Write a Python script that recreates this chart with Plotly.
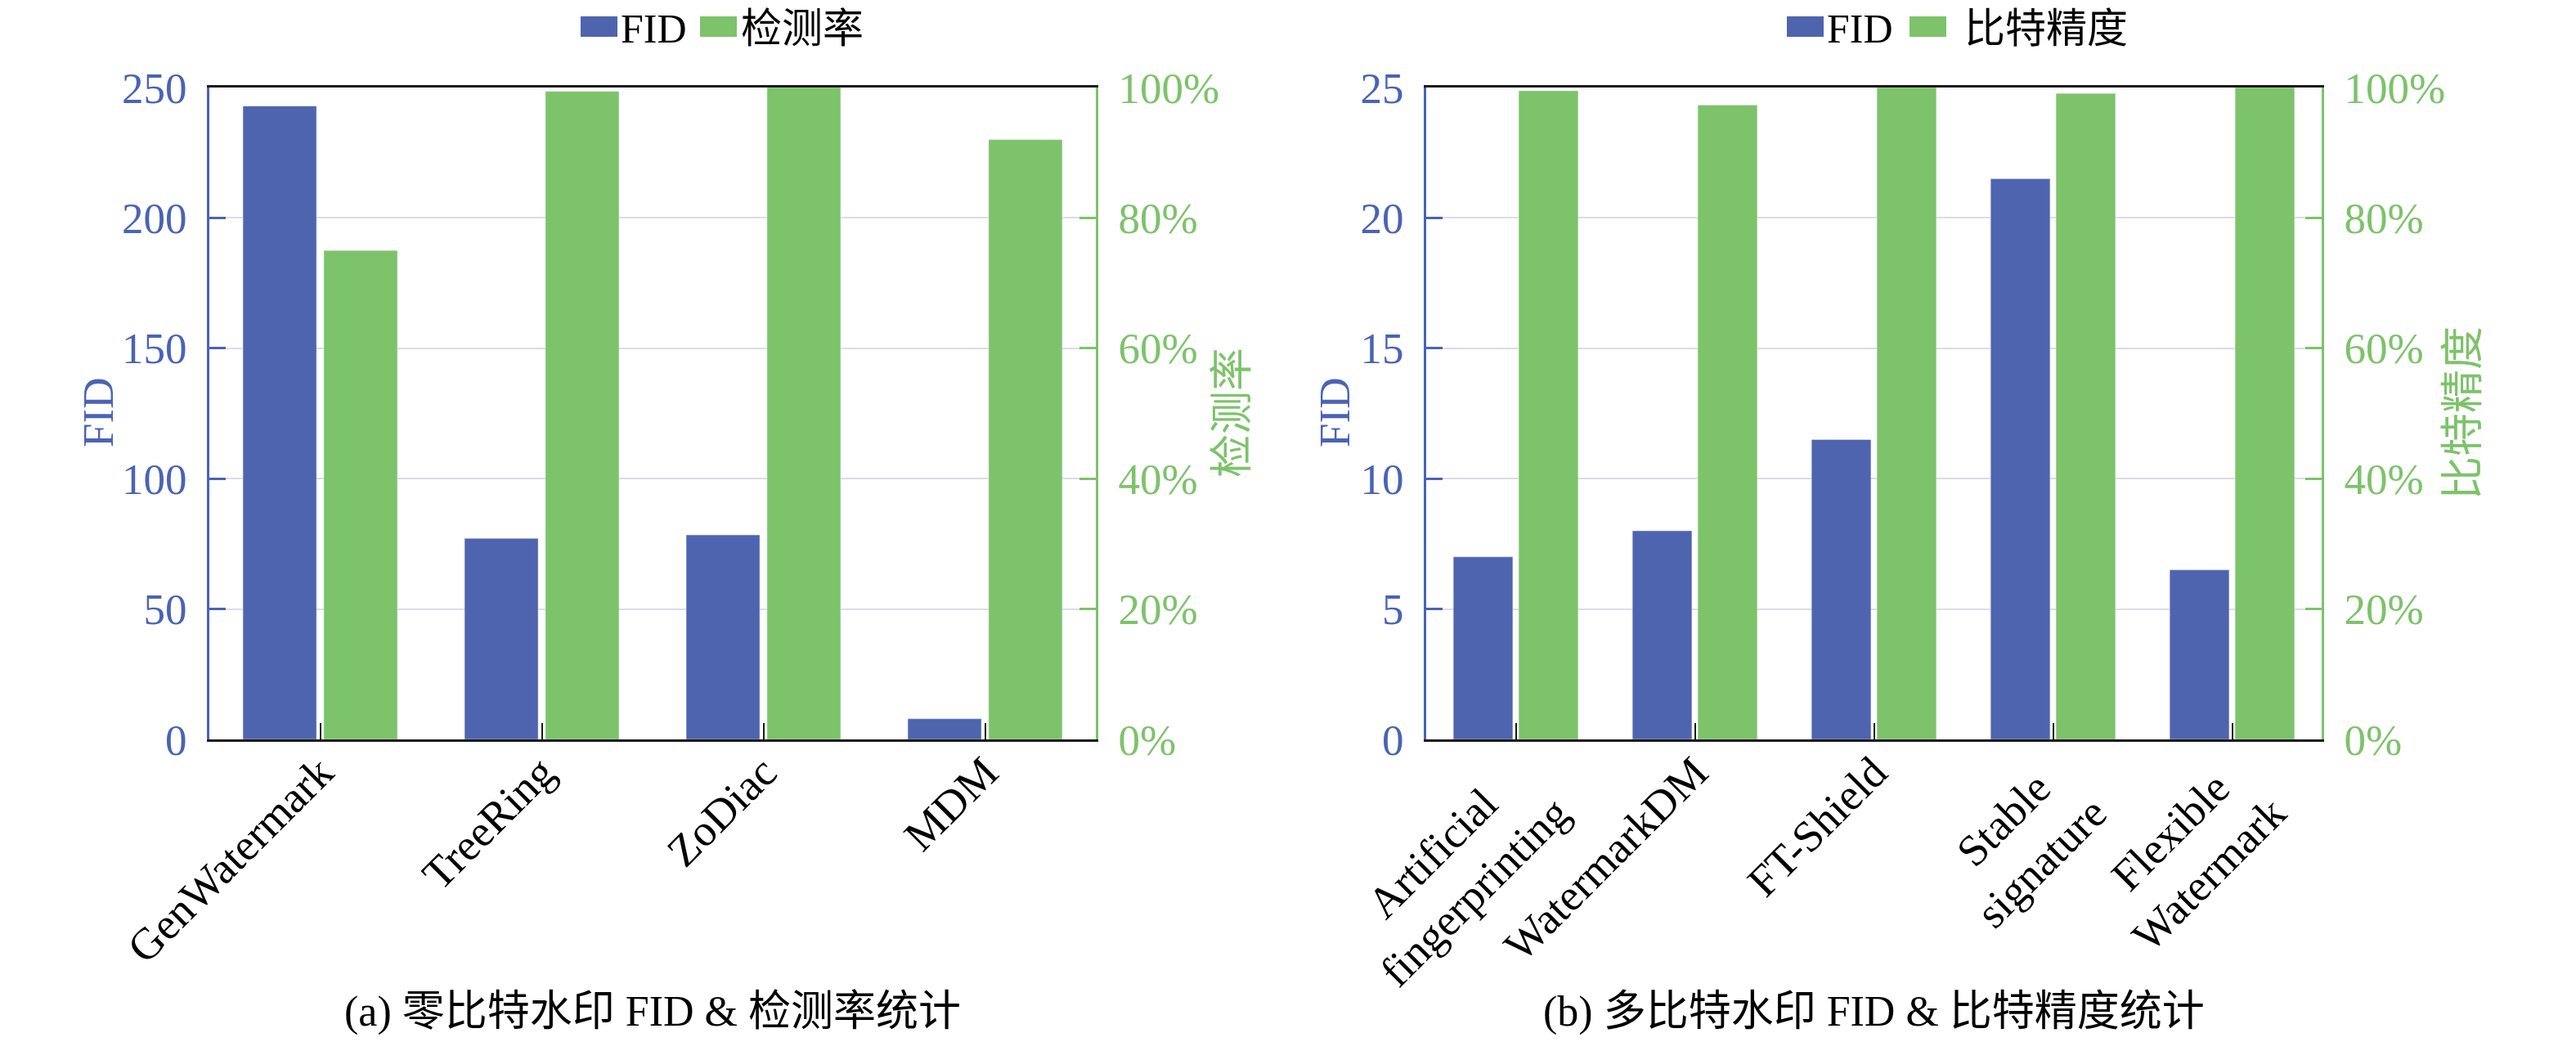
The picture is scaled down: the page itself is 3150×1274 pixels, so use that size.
import plotly.graph_objects as go
from plotly.subplots import make_subplots

# (a) zero-bit watermarking
cats_a = ["GenWatermark", "TreeRing", "ZoDiac", "MDM"]
fid_a = [242.9, 77.1, 78.4, 7.9]
det_a = [75.0, 99.4, 100.0, 92.0]

# (b) multi-bit watermarking
cats_b = ["Artificial fingerprinting", "WatermarkDM", "FT-Shield",
          "Stable signature", "Flexible Watermark"]
fid_b = [7.0, 8.0, 11.5, 21.5, 6.5]
acc_b = [99.5, 97.3, 100.0, 99.1, 100.0]
# two-line tick labels, short line padded with nbsp so lines look centred
NB = "\u00a0"
ticks_b = ["Artificial" + NB * 4 + "<br>fingerprinting", "WatermarkDM",
           "FT-Shield", "Stable" + NB * 2 + "<br>signature",
           "Flexible" + NB * 2 + "<br>Watermark"]

W, H = 3150, 1274
PAD = 8  # browser body margin
BLUE = "#4f64ae"
GREEN = "#7dc36a"
AXBLUE = "#4a63b5"
BLACK = "#1a1a1a"
FONT = "Liberation Serif, Noto Sans CJK SC, serif"


# page pixel -> paper fraction
def px(x):
    return (x - PAD) / (W - PAD)


def py(y):
    return 1 - (y - PAD) / (H - PAD)


fig = make_subplots(rows=1, cols=2,
                    specs=[[{"secondary_y": True}, {"secondary_y": True}]])

fig.add_trace(go.Bar(x=cats_a, y=fid_a, name="FID", marker_color=BLUE,
                     offsetgroup=1, showlegend=False),
              row=1, col=1, secondary_y=False)
fig.add_trace(go.Bar(x=cats_a, y=det_a, name="检测率", marker_color=GREEN,
                     offsetgroup=2, showlegend=False),
              row=1, col=1, secondary_y=True)
fig.add_trace(go.Bar(x=cats_b, y=fid_b, name="FID", marker_color=BLUE,
                     offsetgroup=1, showlegend=False),
              row=1, col=2, secondary_y=False)
fig.add_trace(go.Bar(x=cats_b, y=acc_b, name="比特精度", marker_color=GREEN,
                     offsetgroup=2, showlegend=False),
              row=1, col=2, secondary_y=True)

ydom = [py(904), py(107)]

xcommon = dict(showline=True, linecolor=BLACK, linewidth=3, mirror=True,
               ticks="inside", tickcolor=BLACK, ticklen=20, tickwidth=2,
               tickangle=-45, tickfont=dict(size=54, color="black"),
               ticklabelstandoff=-16,
               showgrid=False, automargin=False)
fig.update_layout(
    xaxis=dict(domain=[px(256), px(1340)], range=[-0.5, 3.5], **xcommon),
    xaxis2=dict(domain=[px(1744), px(2839)], range=[-0.5, 4.5],
                tickmode="array", tickvals=cats_b, ticktext=ticks_b,
                **xcommon),
)

ycommon = dict(domain=ydom, showline=True, linecolor=AXBLUE, linewidth=3,
               ticks="inside", tickcolor=AXBLUE, ticklen=20, tickwidth=3,
               tickfont=dict(size=53, color=AXBLUE), ticklabelstandoff=14,
               showgrid=True, gridcolor="#dcdce8", gridwidth=2,
               zeroline=False, automargin=False)
y2common = dict(domain=ydom, showline=True, linecolor=GREEN, linewidth=3,
                ticks="inside", tickcolor=GREEN, ticklen=20, tickwidth=3,
                tickfont=dict(size=53, color=GREEN), ticklabelstandoff=14,
                ticksuffix="%", range=[0, 100], dtick=20,
                showgrid=False, zeroline=False, automargin=False)
fig.update_layout(
    yaxis=dict(range=[0, 250], dtick=50, **ycommon),
    yaxis2=dict(**y2common),
    yaxis3=dict(range=[0, 25], dtick=5, **ycommon),
    yaxis4=dict(**y2common),
)

annotations = []
shapes = []

# axis titles
for x, text, color in [(120, "FID", AXBLUE), (1507, "检测率", GREEN),
                       (1632, "FID", AXBLUE), (3012, "比特精度", GREEN)]:
    annotations.append(dict(x=px(x), y=py(505), xref="paper", yref="paper",
                            text=text, textangle=-90, showarrow=False,
                            xanchor="center", yanchor="middle",
                            font=dict(size=53, color=color)))

# captions
for x, text in [(798, "(a) 零比特水印 FID &amp; 检测率统计"),
                (2291, "(b) 多比特水印 FID &amp; 比特精度统计")]:
    annotations.append(dict(x=px(x), y=py(1237), xref="paper", yref="paper",
                            text=text, showarrow=False,
                            xanchor="center", yanchor="middle",
                            font=dict(size=52, color="black")))

# legends drawn by hand (bigger swatches than plotly's own)
legend_items = [
    (710, BLUE, 757, "FID"), (856, GREEN, 904, "检测率"),
    (2185, BLUE, 2232, "FID"), (2335, GREEN, 2400, "比特精度"),
]
for sx, color, tx, text in legend_items:
    shapes.append(dict(type="rect", xref="paper", yref="paper",
                       x0=px(sx), x1=px(sx + 45), y0=py(45), y1=py(20),
                       fillcolor=color, line=dict(width=0)))
    annotations.append(dict(x=px(tx), y=py(35), xref="paper", yref="paper",
                            text=text, showarrow=False,
                            xanchor="left", yanchor="middle",
                            font=dict(size=50, color="black")))

fig.update_layout(
    width=W - PAD, height=H - PAD,
    margin=dict(l=0, r=0, t=0, b=0),
    paper_bgcolor="white", plot_bgcolor="white",
    font=dict(family=FONT, color="black"),
    barmode="group", bargap=0.27, bargroupgap=0.09,
    annotations=annotations, shapes=shapes,
)

fig.write_html("out.html")
